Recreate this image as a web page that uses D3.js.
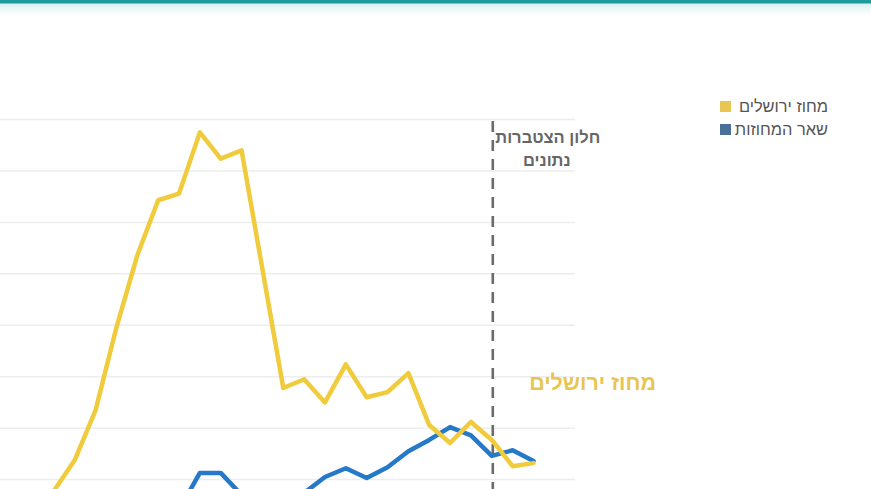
<!DOCTYPE html>
<html>

<head>
    <meta charset="utf-8" />
    <title>מחוז ירושלים</title>
    <style>
        html, body { margin: 0; padding: 0; background: #ffffff; overflow: hidden; }
        svg { display: block; font-family: "Liberation Sans", "DejaVu Sans", sans-serif; }
    </style>
</head>

<body>
    <svg width=871 height=489></svg>
</body>

<script src="https://cdn.jsdelivr.net/npm/d3@7/dist/d3.min.js"></script>
<script>

    // weeks (the axis itself is cut off below the picture)
    var semaines = ['1', '2', '3', '4', '5', '6', '7', '8', '9', '10', '11', '12', '13',
        '14', '15', '16', '17', '18', '19', '20', '21', '22', '23', '24', '25', '26'];

    var jerusalem = [0.60, 0.74, 0.78, 1.38, 2.35, 3.96, 5.36, 6.43, 6.56, 7.75, 7.24, 7.40, 5.09,
        2.78, 2.95, 2.50, 3.24, 2.60, 2.70, 3.07, 2.06, 1.71, 2.12, 1.77, 1.26, 1.32];

    var autres = [0.30, 0.30, 0.32, 0.33, 0.35, 0.36, 0.38, 0.40, 0.41, 1.13, 1.13, 0.70, 0.50,
        0.50, 0.74, 1.05, 1.22, 1.03, 1.24, 1.55, 1.77, 2.02, 1.86, 1.46, 1.57, 1.36];

    var graduations = [0, 1, 2, 3, 4, 5, 6, 7, 8];

    var series = [
        { nom: 'מחוז ירושלים', valeurs: jerusalem, couleur: '#f0cb3c', legende: '#e9c652' },
        { nom: 'שאר המחוזות', valeurs: autres, couleur: '#2479c9', legende: '#4a6f98' }
    ];

    var svg = d3.select('svg');

    // bande du haut
    var defs = svg.append('defs');
    var grad = defs.append('linearGradient')
        .attr('id', 'ombre')
        .attr('x1', 0).attr('y1', 0).attr('x2', 0).attr('y2', 1);
    grad.append('stop').attr('offset', '0%').attr('stop-color', '#d8f0f0');
    grad.append('stop').attr('offset', '100%').attr('stop-color', '#ffffff');

    svg.append('rect')
        .attr('x', 0).attr('y', 3)
        .attr('width', 871).attr('height', 12)
        .attr('fill', 'url(#ombre)');
    svg.append('rect')
        .attr('x', 0).attr('y', 0)
        .attr('width', 871).attr('height', 3.5)
        .attr('fill', '#1e9a9c');

    var x = d3.scalePoint()
        .domain(semaines)
        .range([12.2, 533.5]);

    var y = d3.scaleLinear()
        .domain([0, 8])
        .range([531, 119.5]);

    // grille
    svg.append('g')
        .selectAll('line')
        .data(graduations)
        .enter()
        .append('line')
        .attr('x1', 0)
        .attr('x2', 575)
        .attr('y1', function (d) { return y(d); })
        .attr('y2', function (d) { return y(d); })
        .attr('stroke', '#ededed')
        .attr('stroke-width', 1.5);

    // fenêtre d'accumulation
    var xFenetre = x('24') + 1;
    svg.append('line')
        .attr('x1', xFenetre).attr('x2', xFenetre)
        .attr('y1', 121).attr('y2', 500)
        .attr('stroke', '#6b6b6b')
        .attr('stroke-width', 2.6)
        .attr('stroke-dasharray', '11,8');

    svg.append('text')
        .attr('x', xFenetre + 55)
        .attr('y', 143)
        .attr('text-anchor', 'middle')
        .attr('font-size', 16.5)
        .attr('font-weight', 'bold')
        .attr('fill', '#666666')
        .text('חלון הצטברות');
    svg.append('text')
        .attr('x', xFenetre + 54)
        .attr('y', 166)
        .attr('text-anchor', 'middle')
        .attr('font-size', 16.5)
        .attr('font-weight', 'bold')
        .attr('fill', '#666666')
        .text('נתונים');

    var ligne = d3.line()
        .x(function (d, i) { return x(semaines[i]); })
        .y(function (d) { return y(d); });

    svg.append('g')
        .selectAll('path')
        .data(series.slice().reverse())
        .enter()
        .append('path')
        .attr('d', function (d) { return ligne(d.valeurs); })
        .attr('fill', 'none')
        .attr('stroke', function (d) { return d.couleur; })
        .attr('stroke-width', 4.5)
        .attr('stroke-linejoin', 'round')
        .attr('stroke-linecap', 'round');

    // étiquette directe
    svg.append('text')
        .attr('x', 656)
        .attr('y', 390)
        .attr('text-anchor', 'end')
        .attr('font-size', 21.4)
        .attr('font-weight', 'bold')
        .attr('fill', '#e8c64e')
        .text('מחוז ירושלים');

    // légende
    var legende = svg.append('g')
        .selectAll('g')
        .data(series)
        .enter()
        .append('g')
        .attr('transform', function (d, i) { return 'translate(0,' + (i * 23) + ')'; });

    legende.append('rect')
        .attr('x', 720)
        .attr('y', 101)
        .attr('width', 11)
        .attr('height', 11)
        .attr('fill', function (d) { return d.legende; });

    legende.append('text')
        .attr('x', 828)
        .attr('y', 112)
        .attr('text-anchor', 'end')
        .attr('font-size', 16.4)
        .attr('fill', '#555555')
        .text(function (d) { return d.nom; });

</script>

</html>
